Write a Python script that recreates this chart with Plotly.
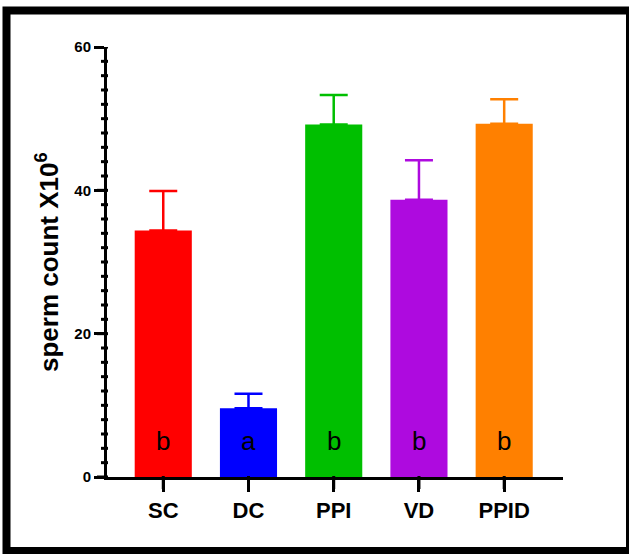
import plotly.graph_objects as go

# ---- data ----
groups = ["SC", "DC", "PPI", "VD", "PPID"]
means = [34.4, 9.6, 49.2, 38.7, 49.3]
errors = [5.5, 2.0, 4.1, 5.5, 3.4]
letters = ["b", "a", "b", "b", "b"]
colors = ["#FF0000", "#0000FF", "#00BF00", "#AE0ADF", "#FF8000"]
y_max = 60
y_major_step = 20
y_minor_step = 2

W, H = 629, 554
L, R, T, B = 107, 66, 47, 77
pw, ph = W - L - R, H - T - B
x_range = [-0.66, 4.69]

def px(x):
    return (x - L) / pw

def py(y):
    return (H - B - y) / ph

fig = go.Figure()
for g, m, e, c in zip(groups, means, errors, colors):
    fig.add_trace(go.Bar(
        x=[g], y=[m], width=0.67,
        marker=dict(color=c, line=dict(width=0)),
        error_y=dict(type="data", array=[e], arrayminus=[0], symmetric=False,
                     color=c, thickness=2.5, width=14),
        showlegend=False,
    ))

# tick marks drawn as shapes (major / minor on y, one per category on x)
major_vals = list(range(0, y_max + 1, y_major_step))
minor_vals = [v for v in range(0, y_max + 1, y_minor_step) if v % y_major_step]
for v in major_vals:
    fig.add_shape(type="line", xref="paper", yref="y",
                  x0=px(97), x1=px(108), y0=v, y1=v,
                  line=dict(color="black", width=3))
for v in minor_vals:
    fig.add_shape(type="line", xref="paper", yref="y",
                  x0=px(101), x1=px(108), y0=v, y1=v,
                  line=dict(color="black", width=3))
for g in groups:
    fig.add_shape(type="line", xref="x", yref="paper",
                  x0=g, x1=g, y0=py(476), y1=py(489),
                  line=dict(color="black", width=3))

for g, t in zip(groups, letters):
    fig.add_annotation(x=g, y=5, text=t, showarrow=False,
                       font=dict(family="Arial", size=26, color="black"),
                       xref="x", yref="y")

fig.add_annotation(x=px(47), y=0.5, xref="paper", yref="paper",
                   text="<b>sperm count X10<sup>6</sup></b>", textangle=-90,
                   showarrow=False, xanchor="center", yanchor="middle",
                   font=dict(family="Arial", size=26, color="black"))

fig.add_shape(type="rect", xref="paper", yref="paper",
              x0=px(6.5), x1=px(630), y0=py(551), y1=py(10.5),
              line=dict(color="black", width=8), fillcolor="rgba(0,0,0,0)")

fig.update_layout(
    width=W, height=H,
    margin=dict(l=L, r=R, t=T, b=B),
    paper_bgcolor="white", plot_bgcolor="white",
    barmode="overlay",
    xaxis=dict(
        type="category", range=x_range,
        showline=True, linecolor="black", linewidth=3,
        ticks="outside", ticklen=12, tickwidth=3, tickcolor="black",
        tickfont=dict(family="Arial", size=22, color="black", weight="bold"),
        showgrid=False, zeroline=False,
    ),
    yaxis=dict(
        range=[0, y_max], tick0=0, dtick=y_major_step,
        showline=True, linecolor="black", linewidth=3,
        ticks="outside", ticklen=10, tickwidth=3, tickcolor="black",
        tickfont=dict(family="Arial", size=15, color="black", weight="bold"),
        showgrid=False, zeroline=False,
    ),
)

fig.write_html("out.html")
